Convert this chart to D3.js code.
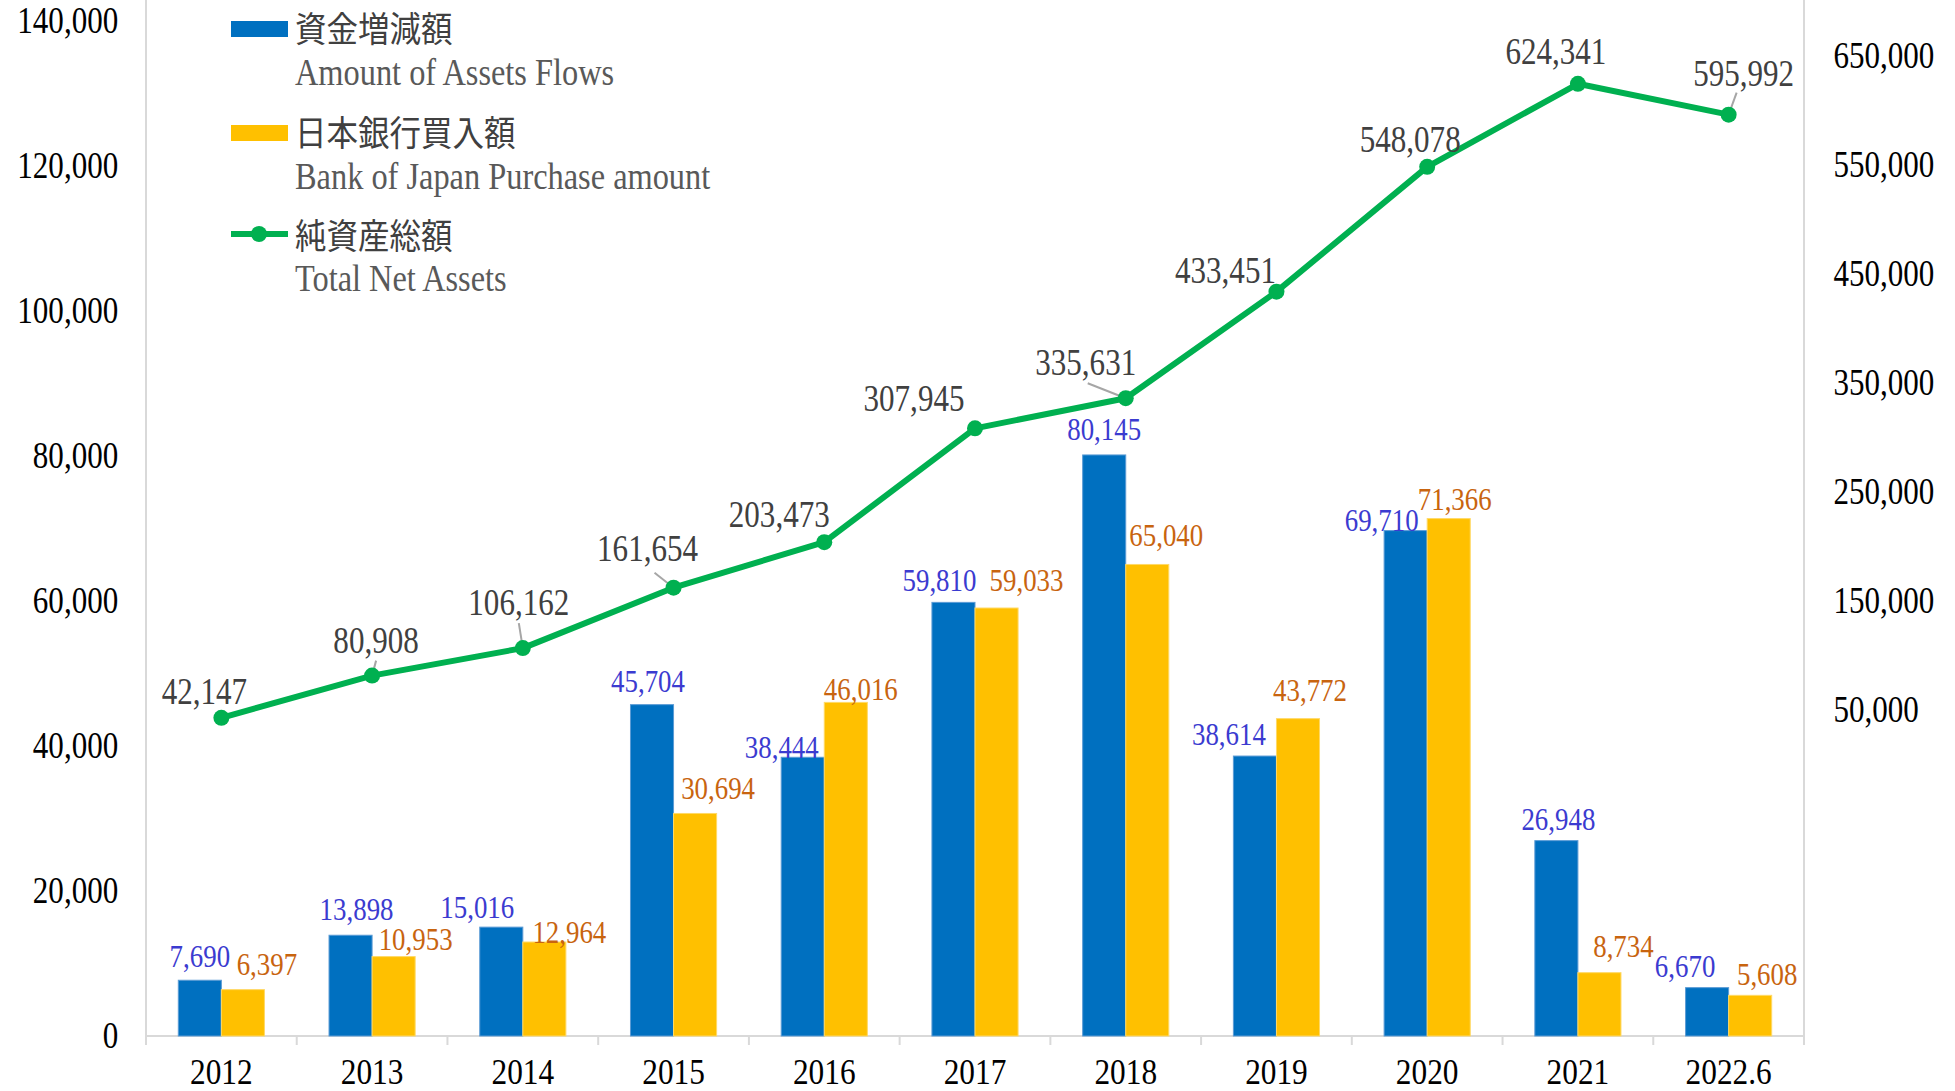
<!DOCTYPE html>
<html>
<head>
<meta charset="utf-8">
<script src="https://cdn.jsdelivr.net/npm/d3@7"></script>
<style>
body{margin:0;background:#fff}
</style>
</head>
<body>
<svg></svg>
<script>
const years = ['2012','2013','2014','2015','2016','2017','2018','2019','2020','2021','2022.6']
const flows = [7690,13898,15016,45704,38444,59810,80145,38614,69710,26948,6670]
const bojBuys = [6397,10953,12964,30694,46016,59033,65040,43772,71366,8734,5608]
const netAssets = [42147,80908,106162,161654,203473,307945,335631,433451,548078,624341,595992]
const leftTicks = [0,20000,40000,60000,80000,100000,120000,140000]
const rightTicks = [50000,150000,250000,350000,450000,550000,650000]

// hand placed label nudges (px), like the excel original
const flowDx = [0,6,-24,-4,-21,-14,0,-26,-24,2,-22]
const flowDy = [-2,-4,2,-2,12,0,-4,0,11,0,0]
const bojDx = [24,22,25,23,15,30,19,12,6,24,17]
const bojDy = [-4,4,12,-3,9,-6,-7,-7,2,-5,1]
const netDx = [-17,4,-4,-26,-45,-61,-40,-51,-17,-22,15]
const netDy = [-26,-35,-45,-39,-27,-29,-35,-21,-27,-32,-41]
const leaders = {1:[4,-15],2:[-4,-25],3:[-19,-15],6:[-38,-15],10:[8,-22]}

const svgWidth = 1955
const svgHeight = 1091
const SX = 0.84
const serif = '"Liberation Serif","Times New Roman",serif'

const svg = d3.select('svg')
    .attr('width',svgWidth)
    .attr('height',svgHeight)
    .style('background','#fff')

const xScale = d3.scaleBand().domain(years).range([146,1804])
const xSub = d3.scaleBand().domain(['flows','boj']).range([0,xScale.bandwidth()]).paddingOuter(0.75)
const yLeft = d3.scaleLinear().domain([0,140000]).range([1036,21])
const yRight = d3.scaleLinear().domain([-250000,682000]).range([1036,21])
const fmt = d3.format(',')

const addText = (x,y,str,size,color,anchor,font,sx) => {
    return svg.append('text')
        .attr('transform','translate('+x+','+y+') scale('+(sx||SX)+',1)')
        .attr('text-anchor',anchor || 'middle')
        .style('font-family',font || serif)
        .style('font-size',size+'px')
        .attr('fill',color)
        .text(str)
}

// axes lines
svg.append('line').attr('x1',146).attr('x2',146).attr('y1',0).attr('y2',1036)
    .attr('stroke','#d9d9d9').attr('stroke-width',2)
svg.append('line').attr('x1',1804).attr('x2',1804).attr('y1',0).attr('y2',1036)
    .attr('stroke','#d9d9d9').attr('stroke-width',2)
svg.append('line').attr('x1',146).attr('x2',1804).attr('y1',1036).attr('y2',1036)
    .attr('stroke','#d9d9d9').attr('stroke-width',2)
svg.selectAll('.xtick')
    .data(years.concat(['end']))
    .enter()
    .append('line')
    .attr('x1',(d,i) => 146 + i*xScale.step())
    .attr('x2',(d,i) => 146 + i*xScale.step())
    .attr('y1',1036).attr('y2',1045)
    .attr('stroke','#d9d9d9').attr('stroke-width',2)

const styleAxis = (g,size,sx) => {
    g.select('.domain').remove()
    g.selectAll('.tick line').remove()
    g.selectAll('text')
        .style('font-family',serif)
        .style('font-size',size+'px')
        .attr('fill','#000')
        .attr('transform','scale('+sx+',1)')
}

svg.append('g')
    .attr('transform','translate(146,0)')
    .call(d3.axisLeft(yLeft).tickValues(leftTicks).tickFormat(fmt).tickSize(0).tickPadding(33))
    .call(styleAxis,37,SX)

svg.append('g')
    .attr('transform','translate(1804,0)')
    .call(d3.axisRight(yRight).tickValues(rightTicks).tickFormat(fmt).tickSize(0).tickPadding(35))
    .call(styleAxis,37,SX)

svg.append('g')
    .attr('transform','translate(0,1036)')
    .call(d3.axisBottom(xScale).tickSize(0).tickPadding(22))
    .call(styleAxis,36,0.87)

// bars
const groups = svg.selectAll('.yr')
    .data(years)
    .enter()
    .append('g')
    .attr('transform',d => 'translate('+xScale(d)+',0)')

groups.append('rect')
    .attr('x',xSub('flows'))
    .attr('width',xSub.bandwidth())
    .attr('y',(d,i) => yLeft(flows[i]))
    .attr('height',(d,i) => yLeft(0) - yLeft(flows[i]))
    .attr('fill','#0070C0')
    .attr('stroke','#5B9BD5').attr('stroke-width',1)

groups.append('rect')
    .attr('x',xSub('boj'))
    .attr('width',xSub.bandwidth())
    .attr('y',(d,i) => yLeft(bojBuys[i]))
    .attr('height',(d,i) => yLeft(0) - yLeft(bojBuys[i]))
    .attr('fill','#FFC000')
    .attr('stroke','#FFD966').attr('stroke-width',1)

years.forEach((yr,i) => {
    const bx = xScale(yr) + xSub('flows') + xSub.bandwidth()/2
    addText(bx + flowDx[i], yLeft(flows[i]) - 11 + flowDy[i], fmt(flows[i]), 32, '#3b3bd0')
    const ox = xScale(yr) + xSub('boj') + xSub.bandwidth()/2
    addText(ox + bojDx[i], yLeft(bojBuys[i]) - 11 + bojDy[i], fmt(bojBuys[i]), 32, '#c8640f')
})

// net assets line
const cx = (d,i) => xScale(years[i]) + xScale.bandwidth()/2
const line = d3.line()
    .x((d,i) => cx(d,i))
    .y(d => yRight(d))

svg.append('path')
    .datum(netAssets)
    .attr('d',line)
    .attr('fill','none')
    .attr('stroke','#00B050')
    .attr('stroke-width',6)
    .attr('stroke-linejoin','round')

Object.keys(leaders).forEach(k => {
    const i = +k
    svg.append('line')
        .attr('x1',cx(null,i)).attr('y1',yRight(netAssets[i]))
        .attr('x2',cx(null,i) + leaders[k][0]).attr('y2',yRight(netAssets[i]) + leaders[k][1])
        .attr('stroke','#a6a6a6').attr('stroke-width',2)
})

svg.selectAll('.dot')
    .data(netAssets)
    .enter()
    .append('circle')
    .attr('r',8)
    .attr('cx',(d,i) => cx(d,i))
    .attr('cy',d => yRight(d))
    .attr('fill','#00B050')

netAssets.forEach((v,i) => {
    addText(cx(v,i) + netDx[i], yRight(v) + netDy[i] + 12, fmt(v), 37, '#404040')
})

// legend
const cjk = '"Noto Sans CJK JP","Noto Sans CJK SC",sans-serif'
svg.append('rect').attr('x',231).attr('y',21).attr('width',57).attr('height',16).attr('fill','#0070C0')
addText(295,42,'資金増減額',35,'#404040','start',cjk,0.9)
addText(295,85,'Amount of Assets Flows',37,'#595959','start',serif,0.875)

svg.append('rect').attr('x',231).attr('y',125).attr('width',57).attr('height',16).attr('fill','#FFC000')
addText(295,146,'日本銀行買入額',35,'#404040','start',cjk,0.9)
addText(295,189,'Bank of Japan Purchase amount',37,'#595959','start',serif,0.875)

svg.append('line').attr('x1',231).attr('x2',288).attr('y1',234).attr('y2',234)
    .attr('stroke','#00B050').attr('stroke-width',6)
svg.append('circle').attr('cx',259).attr('cy',234).attr('r',8).attr('fill','#00B050')
addText(295,249,'純資産総額',35,'#404040','start',cjk,0.9)
addText(295,291,'Total Net Assets',37,'#595959','start',serif,0.875)
</script>
</body>
</html>
